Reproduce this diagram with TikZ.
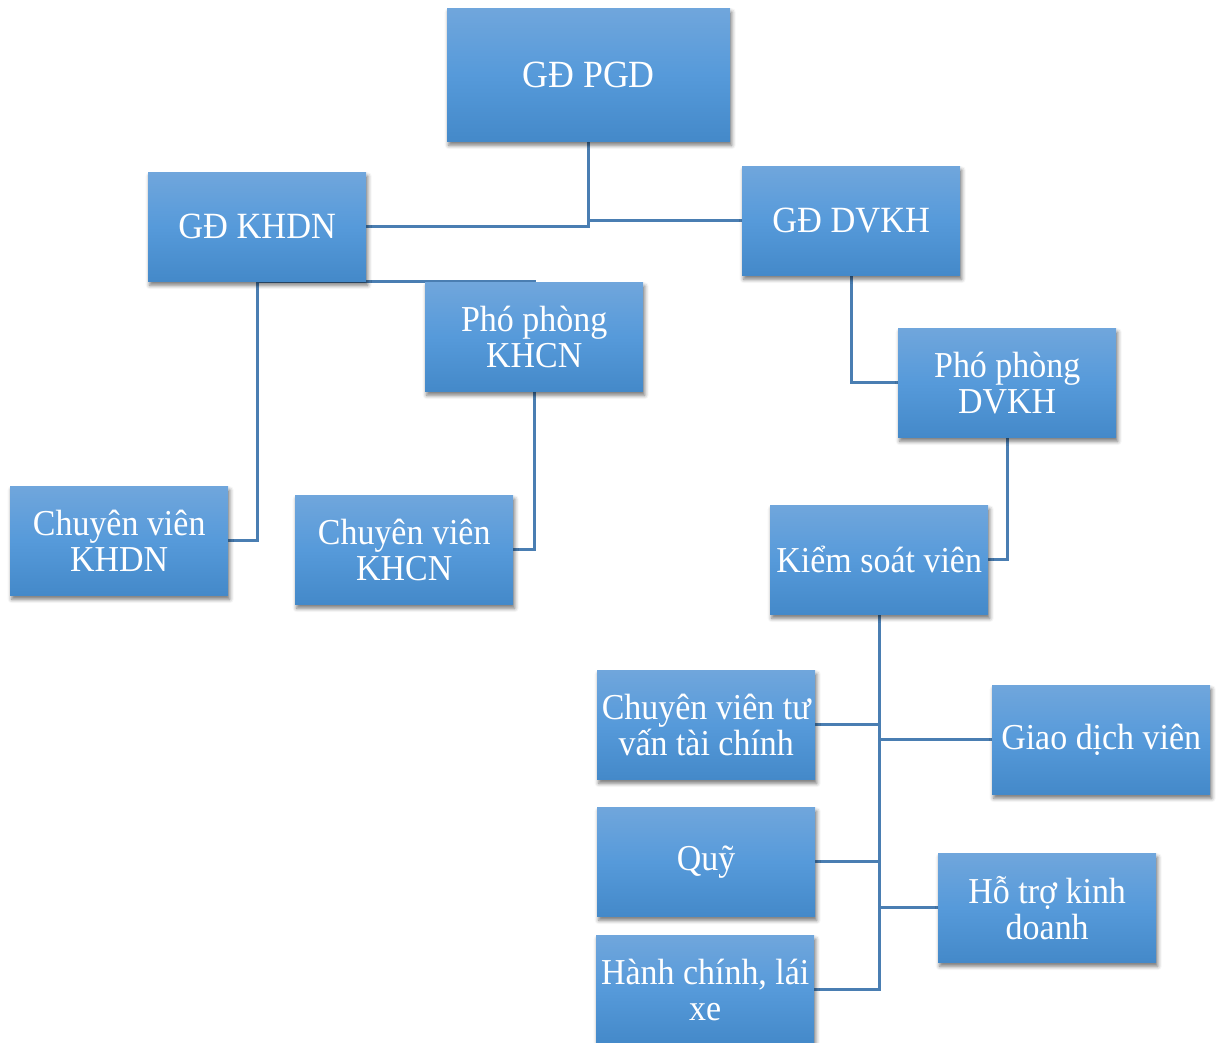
\documentclass[tikz,border=0pt]{standalone}
\usepackage{fontspec}
\setmainfont{Liberation Serif}[FakeStretch=0.93]
\usetikzlibrary{shadows.blur,backgrounds}
\definecolor{boxtop}{RGB}{112,166,220}
\definecolor{boxmid}{RGB}{86,154,218}
\definecolor{boxbot}{RGB}{68,137,201}
\definecolor{linkc}{RGB}{74,126,178}
\tikzset{
  orgbox/.style={rectangle, inner sep=0pt, anchor=north west,
    minimum width=218pt, minimum height=109pt, text=white, align=center,
    font=\fontsize{36.5}{36}\selectfont,
    top color=boxtop, bottom color=boxbot, middle color=boxmid,
    blur shadow={shadow xshift=1.5pt, shadow yshift=-4pt, shadow blur radius=4pt, shadow opacity=55}},
  link/.style={draw=linkc, line width=2.6pt}
}
\begin{document}
\begin{tikzpicture}[x=1pt,y=-1pt]
\useasboundingbox (0,0) rectangle (1217,1043);
\clip (0,0) rectangle (1217,1043);
\node[orgbox, minimum width=283pt, minimum height=133pt, font=\fontsize{38.5}{38}\selectfont] (pgd) at (447,8) {GĐ PGD};
\node[orgbox, font=\fontsize{37}{37}\selectfont] (khdn) at (148,172) {GĐ KHDN};
\node[orgbox, font=\fontsize{37}{37}\selectfont] (dvkh) at (742,166) {GĐ DVKH};
\node[orgbox] (ppkhcn) at (425,282) {Phó phòng\\KHCN};
\node[orgbox] (ppdvkh) at (898,328) {Phó phòng\\DVKH};
\node[orgbox] (cvkhdn) at (10,486) {Chuyên viên\\KHDN};
\node[orgbox] (cvkhcn) at (295,495) {Chuyên viên\\KHCN};
\node[orgbox] (ksv) at (770,505) {Kiểm soát viên};
\node[orgbox] (cvtv) at (597,670) {Chuyên viên tư\\vấn tài chính};
\node[orgbox] (gdv) at (992,685) {Giao dịch viên};
\node[orgbox] (quy) at (597,807) {Quỹ};
\node[orgbox] (htkd) at (938,853) {Hỗ trợ kinh\\doanh};
\node[orgbox] (hc) at (596,935) {Hành chính, lái\\xe};
\begin{scope}[on background layer]
\draw[link] (khdn.east) -- (pgd.south |- khdn.east) -- (pgd.south);
\draw[link] (pgd.south |- dvkh.west) -- (dvkh.west);
\draw[link] (khdn.south) |- (cvkhdn.east);
\draw[link] (khdn.south) -- (khdn.south -| ppkhcn.north) -- (ppkhcn.north);
\draw[link] (ppkhcn.south) |- (cvkhcn.east);
\draw[link] (dvkh.south) |- (ppdvkh.west);
\draw[link] (ppdvkh.south) |- (ksv.east);
\draw[link] (ksv.south) |- (cvtv.east);
\draw[link] (ksv.south) |- (gdv.west);
\draw[link] (ksv.south) |- (quy.east);
\draw[link] (ksv.south) |- (htkd.west);
\draw[link] (ksv.south) |- (hc.east);
\end{scope}
\end{tikzpicture}
\end{document}
